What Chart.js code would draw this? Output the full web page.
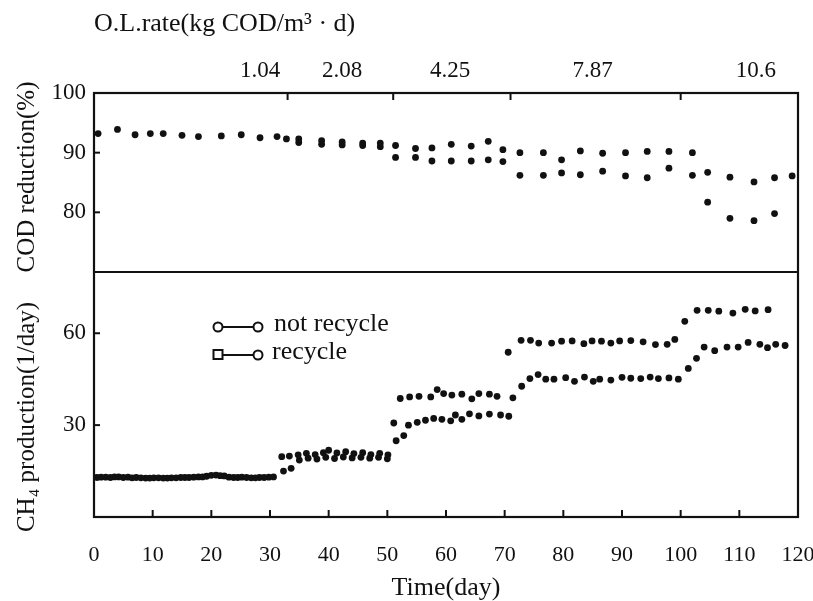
<!DOCTYPE html>
<html>
<head>
<meta charset="utf-8">
<script src="https://cdn.jsdelivr.net/npm/chart.js@4.4.1/dist/chart.umd.min.js"></script>
<style>
  body { margin: 0; background: #fff; }
  canvas { display: block; }
</style>
</head>
<body>
<canvas id="chart" width="813" height="601"></canvas>
<script>
// COD reduction (%) - upper and lower rows of points
const codDaysA = [0.7, 4, 7, 9.6, 11.8, 15, 17.8, 21.7, 25.1, 28.3, 31.2, 32.8, 34.9, 38.8, 42.3, 45.8, 48.8, 51.4, 54.8, 57.6, 60.9, 64.3, 67.2, 69.7, 72.6, 76.6, 79.7, 82.9, 86.7, 90.6, 94.3, 98, 102, 104.6, 108.4, 112.5, 116, 119];
const codUpper = [93.2, 93.9, 93.0, 93.2, 93.2, 92.9, 92.7, 92.8, 93.0, 92.5, 92.7, 92.3, 92.3, 92.0, 91.8, 91.6, 91.6, 91.2, 90.7, 90.8, 91.4, 91.1, 91.9, 90.5, 90.0, 90.0, 88.8, 90.3, 89.9, 90.0, 90.2, 90.2, 90.0, 86.7, 85.9, 85.1, 85.8, 86.1];
const codDaysB = [34.9, 38.8, 42.3, 45.8, 48.8, 51.4, 54.8, 57.6, 60.9, 64.3, 67.2, 69.7, 72.6, 76.6, 79.7, 82.9, 86.7, 90.6, 94.3, 98, 102, 104.6, 108.4, 112.5, 116];
const codLower = [91.7, 91.4, 91.3, 91.2, 91.0, 89.2, 89.2, 88.6, 88.6, 88.6, 88.8, 88.5, 86.2, 86.2, 86.6, 86.3, 86.9, 86.1, 85.8, 87.4, 86.2, 81.7, 79.0, 78.6, 79.8];

// CH4 production (l/day)
const ch4DaysNotRecycle = [0.5, 2, 3.5, 5, 6.5, 8, 9.5, 11, 12.5, 14, 15.5, 17, 18.5, 20, 21.5, 23, 24.5, 26, 27.5, 29, 30.6, 32.3, 33.6, 35, 36.5, 38, 39.5, 41, 42.5, 44, 45.5, 47, 48.5, 50, 51.5, 52.8, 53.6, 55.1, 56.5, 57.9, 59.3, 60.8, 61.6, 62.7, 64.0, 65.6, 67.4, 69.3, 70.7, 71.4, 72.9, 74.3, 75.7, 77, 78.4, 80.4, 81.9, 83.6, 85.1, 86.2, 88.1, 90, 91.5, 93.2, 94.8, 96.2, 98, 99.6, 101.3, 102.7, 104, 105.8, 107.9, 109.8, 111.5, 113.5, 114.8, 116.2, 117.8];
const ch4NotRecycle = [12.9, 13.0, 13.1, 12.9, 12.8, 12.8, 12.7, 12.8, 12.7, 12.8, 12.9, 13.0, 13.1, 13.6, 13.5, 13.0, 12.9, 12.9, 12.8, 12.9, 13.1, 15.0, 15.9, 18.6, 19.2, 18.9, 19.5, 19.1, 19.6, 19.3, 19.5, 19.2, 19.5, 19.0, 24.9, 26.6, 30.0, 30.9, 31.6, 32.2, 31.9, 31.4, 33.3, 31.9, 33.7, 33.0, 33.6, 33.3, 32.9, 38.9, 42.7, 45.2, 46.5, 45.0, 45.0, 45.5, 44.3, 45.7, 44.3, 45.0, 44.7, 45.6, 45.3, 45.2, 45.7, 45.2, 45.4, 45.0, 48.5, 51.8, 55.5, 54.3, 55.5, 55.5, 57.0, 56.4, 55.3, 56.4, 56.0];
const ch4DaysRecycle = [1.2, 2.8, 4.2, 5.8, 7.2, 8.8, 10.2, 11.8, 13.2, 14.8, 16.2, 17.8, 19.2, 20.8, 22.2, 23.8, 25.2, 26.8, 28.2, 29.8, 32.0, 33.3, 34.8, 36.2, 37.7, 39.1, 40, 41.4, 42.9, 44.3, 45.8, 47.2, 48.7, 50.1, 51.1, 52.2, 53.8, 55.4, 57.4, 58.5, 59.6, 61, 62.7, 64.4, 65.6, 67.4, 68.7, 70.6, 72.8, 74.4, 75.8, 78, 79.7, 81.5, 83.5, 84.9, 86.5, 88.1, 89.6, 91.5, 93.6, 95.7, 97.7, 99, 100.7, 102.8, 104.7, 106.5, 108.9, 111, 112.7, 114.9];
const ch4Recycle = [13.0, 12.9, 13.1, 13.0, 12.9, 12.7, 12.8, 12.7, 12.8, 12.9, 12.9, 13.1, 13.3, 13.7, 13.4, 12.9, 13.0, 12.8, 12.9, 13.0, 19.7, 19.9, 20.3, 20.8, 20.4, 21.0, 21.8, 20.9, 21.3, 20.7, 21.0, 20.4, 20.8, 20.3, 30.7, 38.7, 39.2, 39.4, 39.2, 41.6, 40.3, 39.8, 40.1, 38.6, 40.3, 40.1, 39.4, 53.8, 57.7, 57.7, 56.8, 56.8, 57.4, 57.5, 56.6, 57.5, 57.4, 56.8, 57.5, 57.6, 57.2, 56.3, 56.4, 58.0, 63.9, 67.5, 67.5, 67.2, 66.6, 67.8, 67.3, 67.7];

// axis ticks and the organic loading rate periods along the top
const codTicks = [80, 90, 100];
const ch4Ticks = [30, 60];
const olrLabels = ['1.04', '2.08', '4.25', '7.87', '10.6'];
const olrLabelDays = [28.3, 42.3, 60.7, 85, 112.8];
const olrChangeDays = [33, 51, 71, 100];

const INK = '#111';
const SERIF = '"Liberation Serif", "Times New Roman", serif';

function toPoints(days, values) {
    return days.map((d, i) => ({ x: d, y: values[i] }));
}

function dots(label, days, values, axis) {
    return {
        label: label,
        data: toPoints(days, values),
        yAxisID: axis,
        showLine: false,
        pointRadius: 3.4,
        pointBackgroundColor: INK,
        pointBorderWidth: 0
    };
}

function line(ctx, x1, y1, x2, y2) {
    ctx.beginPath();
    ctx.moveTo(x1, y1);
    ctx.lineTo(x2, y2);
    ctx.stroke();
}

// box, inward tick marks, in-plot legend and the y titles
const decorations = {
    id: 'decorations',
    afterDraw(chart) {
        const { ctx, chartArea: a, scales } = chart;
        ctx.save();
        ctx.strokeStyle = INK;
        ctx.fillStyle = INK;
        ctx.lineWidth = 2.2;
        ctx.strokeRect(a.left, a.top, a.right - a.left, a.bottom - a.top);
        line(ctx, a.left, scales.yCod.bottom, a.right, scales.yCod.bottom);

        ctx.lineWidth = 2;
        scales.x.ticks.forEach(t => {
            const x = scales.x.getPixelForValue(t.value);
            line(ctx, x, a.bottom, x, a.bottom - 7);
        });
        olrChangeDays.forEach(d => {
            const x = scales.x.getPixelForValue(d);
            line(ctx, x, a.top, x, a.top + 7);
        });
        codTicks.forEach(v => {
            const y = scales.yCod.getPixelForValue(v);
            line(ctx, a.left, y, a.left + 6, y);
        });
        ch4Ticks.forEach(v => {
            const y = scales.yCh4.getPixelForValue(v);
            line(ctx, a.left, y, a.left + 6, y);
        });

        // legend
        ctx.fillStyle = '#fff';
        ctx.beginPath(); ctx.arc(218, 327, 4.5, 0, Math.PI * 2); ctx.fill(); ctx.stroke();
        line(ctx, 223, 327, 253, 327);
        ctx.beginPath(); ctx.arc(258, 327, 4.5, 0, Math.PI * 2); ctx.fill(); ctx.stroke();
        ctx.strokeRect(213.5, 350, 9, 9);
        line(ctx, 223, 355, 253, 355);
        ctx.beginPath(); ctx.arc(258, 355, 4.5, 0, Math.PI * 2); ctx.fill(); ctx.stroke();

        ctx.fillStyle = INK;
        ctx.font = '26px ' + SERIF;
        ctx.textBaseline = 'middle';
        ctx.textAlign = 'left';
        ctx.fillText('not recycle', 274, 324);
        ctx.fillText('recycle', 272, 352);

        // y titles
        ctx.textAlign = 'center';
        ctx.font = '25px ' + SERIF;
        ctx.translate(27, 177);
        ctx.rotate(-Math.PI / 2);
        ctx.fillText('COD reduction(%)', 0, 0);
        ctx.rotate(Math.PI / 2);
        ctx.translate(0, 417 - 177);
        ctx.rotate(-Math.PI / 2);
        ctx.fillText('CH\u2084 production(1/day)', 0, 0);
        ctx.restore();
    }
};

// horizontal axes keep the plot edges fixed instead of making room for end labels
function fixHeight(h) {
    return s => {
        s.height = h;
        s.paddingLeft = 0;
        s.paddingRight = 0;
    };
}

new Chart(document.getElementById('chart'), {
    type: 'scatter',
    data: {
        datasets: [
            dots('COD upper', codDaysA, codUpper, 'yCod'),
            dots('COD lower', codDaysB, codLower, 'yCod'),
            dots('not recycle', ch4DaysNotRecycle, ch4NotRecycle, 'yCh4'),
            dots('recycle', ch4DaysRecycle, ch4Recycle, 'yCh4')
        ]
    },
    options: {
        responsive: false,
        animation: false,
        layout: { padding: { left: 0, right: 15, top: 0, bottom: 0 } },
        plugins: {
            legend: { display: false },
            tooltip: { enabled: false }
        },
        scales: {
            x: {
                type: 'linear',
                position: 'bottom',
                min: 0,
                max: 120,
                grid: { display: false, drawTicks: false },
                border: { display: false },
                ticks: { stepSize: 10, color: INK, padding: 25, font: { family: SERIF, size: 22 } },
                title: {
                    display: true,
                    text: 'Time(day)',
                    color: INK,
                    padding: { top: 0, bottom: 0 },
                    font: { family: SERIF, size: 26, lineHeight: 1 }
                },
                afterFit: fixHeight(84)
            },
            xTop: {
                type: 'linear',
                position: 'top',
                min: 0,
                max: 120,
                grid: { display: false, drawTicks: false },
                border: { display: false },
                afterBuildTicks: s => { s.ticks = olrLabelDays.map(v => ({ value: v })); },
                ticks: {
                    autoSkip: false,
                    color: INK,
                    padding: 8,
                    font: { family: SERIF, size: 23 },
                    callback: (v, i) => olrLabels[i]
                },
                title: {
                    display: true,
                    text: 'O.L.rate(kg COD/m\u00b3 \u00b7 d)',
                    align: 'start',
                    color: INK,
                    padding: { top: 11, bottom: 0 },
                    font: { family: SERIF, size: 26, lineHeight: 1 }
                },
                afterFit: fixHeight(93)
            },
            // the lower panel is listed first so that it lands at the bottom of the stack
            yCh4: {
                type: 'linear',
                position: 'left',
                stack: 'panels',
                stackWeight: 245,
                min: 0,
                max: 80,
                grid: { display: false, drawTicks: false },
                border: { display: false },
                afterBuildTicks: s => { s.ticks = ch4Ticks.map(v => ({ value: v })); },
                ticks: { color: INK, padding: 8, font: { family: SERIF, size: 23 } },
                afterFit: s => { s.width = 94; }
            },
            yCod: {
                type: 'linear',
                position: 'left',
                stack: 'panels',
                stackWeight: 179,
                min: 70,
                max: 100,
                grid: { display: false, drawTicks: false },
                border: { display: false },
                afterBuildTicks: s => { s.ticks = codTicks.map(v => ({ value: v })); },
                ticks: { color: INK, padding: 8, font: { family: SERIF, size: 23 } },
                afterFit: s => { s.width = 94; }
            }
        }
    },
    plugins: [decorations]
});
</script>
</body>
</html>
